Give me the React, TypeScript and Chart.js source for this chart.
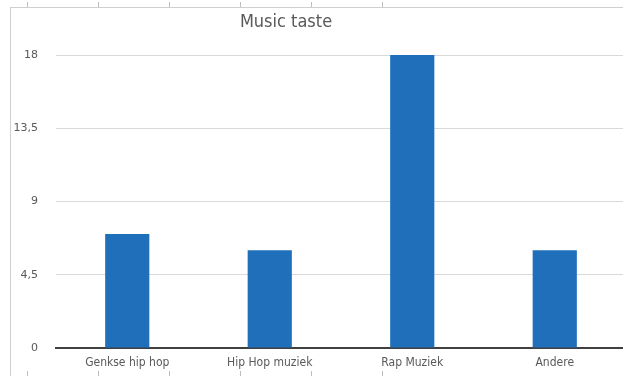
import React, { useEffect, useRef } from "react";
import { Chart, registerables } from "chart.js";

Chart.register(...registerables);

const categories = ["Genkse hip hop", "Hip Hop muziek", "Rap Muziek", "Andere"];
const values = [7, 6, 18, 6];
const yTicks = [0, 4.5, 9, 13.5, 18];
const titleText = "Music taste";
const frameTickXs = [27, 98, 169, 240, 311, 382];

export default function App() {
  const ref = useRef<HTMLCanvasElement | null>(null);

  useEffect(() => {
    if (!ref.current) return;
    const chart = new Chart(ref.current, {
      type: "bar",
      data: {
        labels: categories,
        datasets: [
          {
            data: values,
            backgroundColor: "#1f6fba",
            borderWidth: 0,
            categoryPercentage: 1,
            barPercentage: 0.31,
          },
        ],
      },
      options: {
        animation: false,
        responsive: false,
        maintainAspectRatio: false,
        layout: { padding: { left: 0, right: 0, top: 0, bottom: 0 } },
        plugins: {
          legend: { display: false },
          tooltip: { enabled: false },
          title: {
            display: true,
            text: titleText,
            color: "#595959",
            font: { family: "DejaVu Sans Condensed, DejaVu Sans", size: 18, weight: "normal" },
            padding: { top: 12, bottom: 21.4 },
          },
        },
        scales: {
          x: {
            afterFit: (s: any) => {
              s.height = 28;
            },
            grid: { display: false },
            border: { display: true, color: "#404040", width: 2 },
            ticks: {
              color: "#595959",
              padding: 0,
              font: { family: "DejaVu Sans Condensed, DejaVu Sans", size: 12 },
            },
          },
          y: {
            min: 0,
            max: 18,
            afterFit: (s: any) => {
              s.width = 110;
            },
            afterBuildTicks: (s: any) => {
              s.ticks = yTicks.map((v) => ({ value: v }));
            },
            grid: { color: "#d9d9d9", lineWidth: 1, drawTicks: false },
            border: { display: false },
            ticks: {
              color: "#595959",
              padding: 18,
              font: { family: "DejaVu Sans", size: 11 },
              callback: (v: any) => String(v).replace(".", ","),
            },
          },
        },
      },
    });
    return () => chart.destroy();
  }, []);

  return (
    <div
      style={{
        position: "fixed",
        left: 0,
        top: 0,
        width: 623,
        height: 376,
        overflow: "hidden",
        background: "#fff",
      }}
    >
      <div
        style={{
          position: "absolute",
          left: 10,
          top: 7,
          width: 640,
          height: 400,
          borderTop: "1px solid #cfcfcf",
          borderLeft: "1px solid #cfcfcf",
        }}
      />
      {frameTickXs.map((x) => (
        <React.Fragment key={x}>
          <div style={{ position: "absolute", left: x, top: 2, width: 1, height: 5, background: "#bdbdbd" }} />
          <div style={{ position: "absolute", left: x, top: 371, width: 1, height: 5, background: "#bdbdbd" }} />
        </React.Fragment>
      ))}
      <canvas
        ref={ref}
        width={680}
        height={376}
        style={{ position: "absolute", left: -54, top: 0, width: 680, height: 376 }}
      />
    </div>
  );
}
